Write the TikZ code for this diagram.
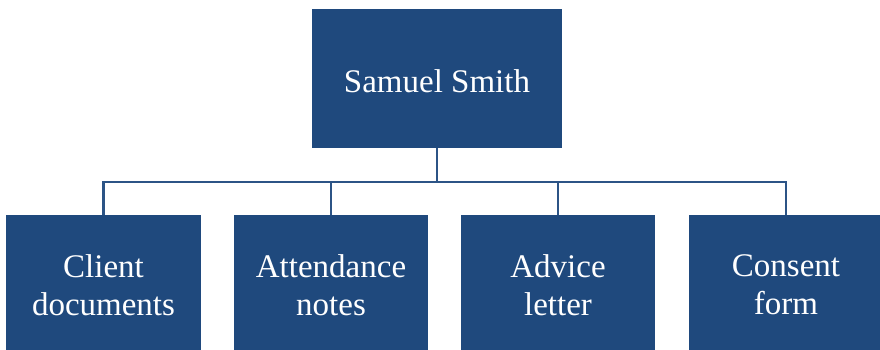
\documentclass[tikz,border=0pt]{standalone}
\usepackage{fontspec}
\setmainfont{Liberation Serif}
\definecolor{boxblue}{HTML}{1F497D}
\definecolor{lineblue}{HTML}{2C5486}
\begin{document}
\begin{tikzpicture}[x=1pt,y=-1pt,
  box/.style={fill=boxblue, draw=none, text=white, align=center, inner sep=0pt,
    font=\fontsize{33}{38}\selectfont},
  lbl/.style={text=white, align=center, inner sep=0pt, font=\fontsize{33}{38}\selectfont},
  conn/.style={draw=lineblue, line width=2.4pt}]
\useasboundingbox (0,0) rectangle (880,350);
\node[box, minimum width=250pt, minimum height=139pt] (top) at (437,78.5) {};
\node[box, minimum width=195pt, minimum height=136pt] (c1) at (103.5,283) {};
\node[box, minimum width=194pt, minimum height=136pt] (c2) at (331,283) {};
\node[box, minimum width=194pt, minimum height=136pt] (c3) at (558,283) {};
\node[box, minimum width=194pt, minimum height=136pt] (c4) at (786,283) {};
\node[lbl] (t0) at ([yshift=-2.5pt]top.center) {Samuel Smith};
\node[lbl] (t1) at ([yshift=-2pt]c1.center) {Client\\documents};
\node[lbl] (t2) at ([yshift=-2pt]c2.center) {Attendance\\notes};
\node[lbl] (t3) at ([yshift=-2pt]c3.center) {Advice\\letter};
\node[lbl] (t4) at ([yshift=-2pt]c4.center) {Consent\\form};
\coordinate (hy) at (0,182);
\draw[conn] (top.south) -- (top.south |- hy);
\draw[conn] (c1.north) -- (c1.north |- hy) -- (c4.north |- hy) -- (c4.north);
\draw[conn] (c2.north) -- (c2.north |- hy);
\draw[conn] (c3.north) -- (c3.north |- hy);
\end{tikzpicture}
\end{document}
